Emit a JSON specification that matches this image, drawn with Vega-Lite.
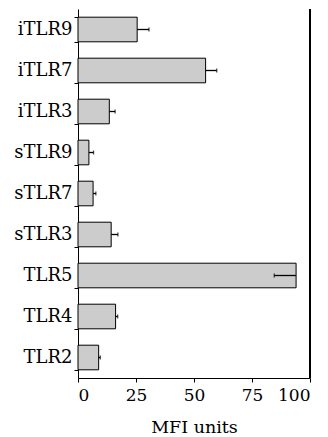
{
  "$schema": "https://vega.github.io/schema/vega-lite/v6.json",
  "autosize": "none",
  "width": 232,
  "height": 369,
  "padding": {"left": 78, "top": 9, "right": 18, "bottom": 59},
  "background": "white",
  "config": {
    "view": {"stroke": null},
    "font": "DejaVu Serif",
    "axis": {"labelFont": "DejaVu Serif", "titleFont": "DejaVu Serif"}
  },
  "data": {
    "values": [
      {"receptor": "iTLR9", "mfi": 25.5, "err_end": 30.6},
      {"receptor": "iTLR7", "mfi": 55.0, "err_end": 59.8},
      {"receptor": "iTLR3", "mfi": 13.5, "err_end": 16.0},
      {"receptor": "sTLR9", "mfi": 4.7, "err_end": 6.7},
      {"receptor": "sTLR7", "mfi": 6.5, "err_end": 7.7},
      {"receptor": "sTLR3", "mfi": 14.3, "err_end": 17.2},
      {"receptor": "TLR5", "mfi": 94.0, "err_end": 84.6},
      {"receptor": "TLR4", "mfi": 16.2, "err_end": 17.1},
      {"receptor": "TLR2", "mfi": 8.9, "err_end": 9.6}
    ]
  },
  "layer": [
    {
      "mark": {"type": "bar", "fill": "#cccccc", "stroke": "black", "strokeWidth": 1},
      "encoding": {
        "y": {
          "field": "receptor", "type": "nominal",
          "sort": ["iTLR9", "iTLR7", "iTLR3", "sTLR9", "sTLR7", "sTLR3", "TLR5", "TLR4", "TLR2"],
          "scale": {"paddingInner": 0.4, "paddingOuter": 0.2},
          "axis": {
            "title": null, "labelFontSize": 18, "labelColor": "black", "tickBand": "extent",
            "tickSize": 4, "tickColor": "black", "domainColor": "black", "labelPadding": 2
          }
        },
        "x": {
          "field": "mfi", "type": "quantitative",
          "scale": {"domain": [0, 100], "nice": false},
          "axis": {
            "title": "MFI units", "titleFontSize": 17.5, "titleFontWeight": "normal", "titleColor": "black",
            "titlePadding": 15, "labelFontSize": 17, "labelColor": "black", "tickColor": "black",
            "domainColor": "black", "tickSize": 4, "labelPadding": 5, "grid": false,
            "values": [0, 25, 50, 75, 100]
          }
        }
      }
    },
    {
      "mark": {"type": "rule", "color": "black", "strokeWidth": 1.3},
      "encoding": {
        "y": {"field": "receptor", "type": "nominal", "sort": ["iTLR9", "iTLR7", "iTLR3", "sTLR9", "sTLR7", "sTLR3", "TLR5", "TLR4", "TLR2"]},
        "x": {"field": "mfi", "type": "quantitative"},
        "x2": {"field": "err_end"}
      }
    },
    {
      "mark": {"type": "tick", "color": "black", "size": 4, "thickness": 1.3},
      "encoding": {
        "y": {"field": "receptor", "type": "nominal", "sort": ["iTLR9", "iTLR7", "iTLR3", "sTLR9", "sTLR7", "sTLR3", "TLR5", "TLR4", "TLR2"]},
        "x": {"field": "err_end", "type": "quantitative"}
      }
    },
    {
      "mark": {"type": "rule", "color": "black", "strokeWidth": 1},
      "encoding": {"x": {"datum": 100}}
    }
  ]
}
